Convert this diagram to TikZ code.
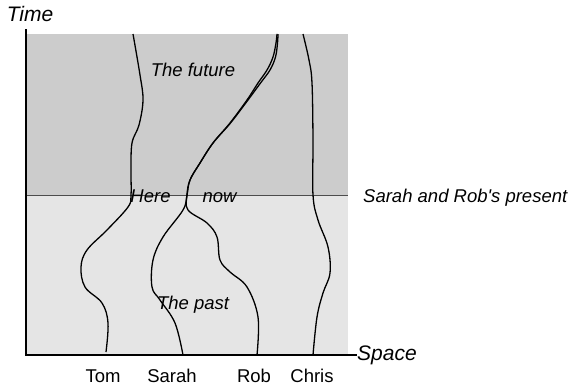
\documentclass[tikz,border=0pt]{standalone}
\usepackage{fontspec}
\setmainfont{Liberation Sans}
\usetikzlibrary{positioning}
\definecolor{future}{RGB}{204,204,204}
\definecolor{past}{RGB}{229,229,229}
\tikzset{life/.style={line width=1.3pt,line join=round},
  txt/.style={font=\fontsize{18.5}{22}\selectfont,inner sep=0pt,anchor=base},
  axlbl/.style={font=\fontsize{21}{25}\selectfont\itshape,inner sep=0pt}}

\begin{document}
\begin{tikzpicture}[x=1pt,y=-1pt]
  \useasboundingbox (0,0) rectangle (571,386);
  % future and past
  \fill[future] (26,34) rectangle (348,195);
  \fill[past] (26,195) rectangle (348,355);
  \coordinate (P0) at (26,195); \coordinate (P1) at (348,195);
  \draw[line width=1pt,black!70] (P0) -- (P1);
  \node[txt,anchor=base west] (present) at (363,202) {\itshape Sarah and Rob\textquotesingle s present};
  % worldlines
  \coordinate (here) at (187,195);
  \draw[life] plot[smooth,tension=0.6] coordinates {(133,34) (140,75) (143,100) (139,125) (132,143) (131,170) (131,195) (128,207) (107,230) (87,250) (81,267) (85,287) (102,303) (108,323) (106,352)};
  \draw[life] plot[smooth,tension=0.6] coordinates {(277,34) (276,43) (273,57) (267,70) (258,83) (247,100) (230,123) (213,143) (200,163) (190,180) (here) (183,210) (163,237) (153,260) (152,287) (160,300) (175,323) (183,355)};
  \draw[life] plot[smooth,tension=0.6] coordinates {(278,34) (277.5,43) (275.5,57) (270,70) (260.5,83) (248,100) (230.5,123) (213,143) (200,163) (190,180) (here) (188,210) (207,223) (217,237) (220,260) (230,272) (247,287) (258,317) (257,355)};
  \draw[life] plot[smooth,tension=0.6] coordinates {(303,34) (309,60) (312,83) (313,140) (313,195) (318,220) (328,247) (330,273) (323,293) (317,317) (313,355)};
  \node[txt] (future) at (193,76) {\itshape The future};
  \node[txt] (past) at (193,309) {\itshape The past};
  \node[txt] (hr) at (150.5,202) {\itshape Here};
  \node[txt] (nw) at (219.5,202) {\itshape now};
  % axes
  \coordinate (O) at (26,355); \coordinate (T) at (26,29); \coordinate (S) at (357,355);
  \draw[line width=1.5pt] (T) -- (O) -- (S);
  \node[axlbl,anchor=base] (time) at (30,21) {Time};
  \node[axlbl,anchor=west] (space) at (S) {Space};
  % names
  \foreach \n/\x in {Tom/103,Sarah/172,Rob/254,Chris/312}
    \node[txt] (\n) at (\x,382) {\n};
\end{tikzpicture}
\end{document}
